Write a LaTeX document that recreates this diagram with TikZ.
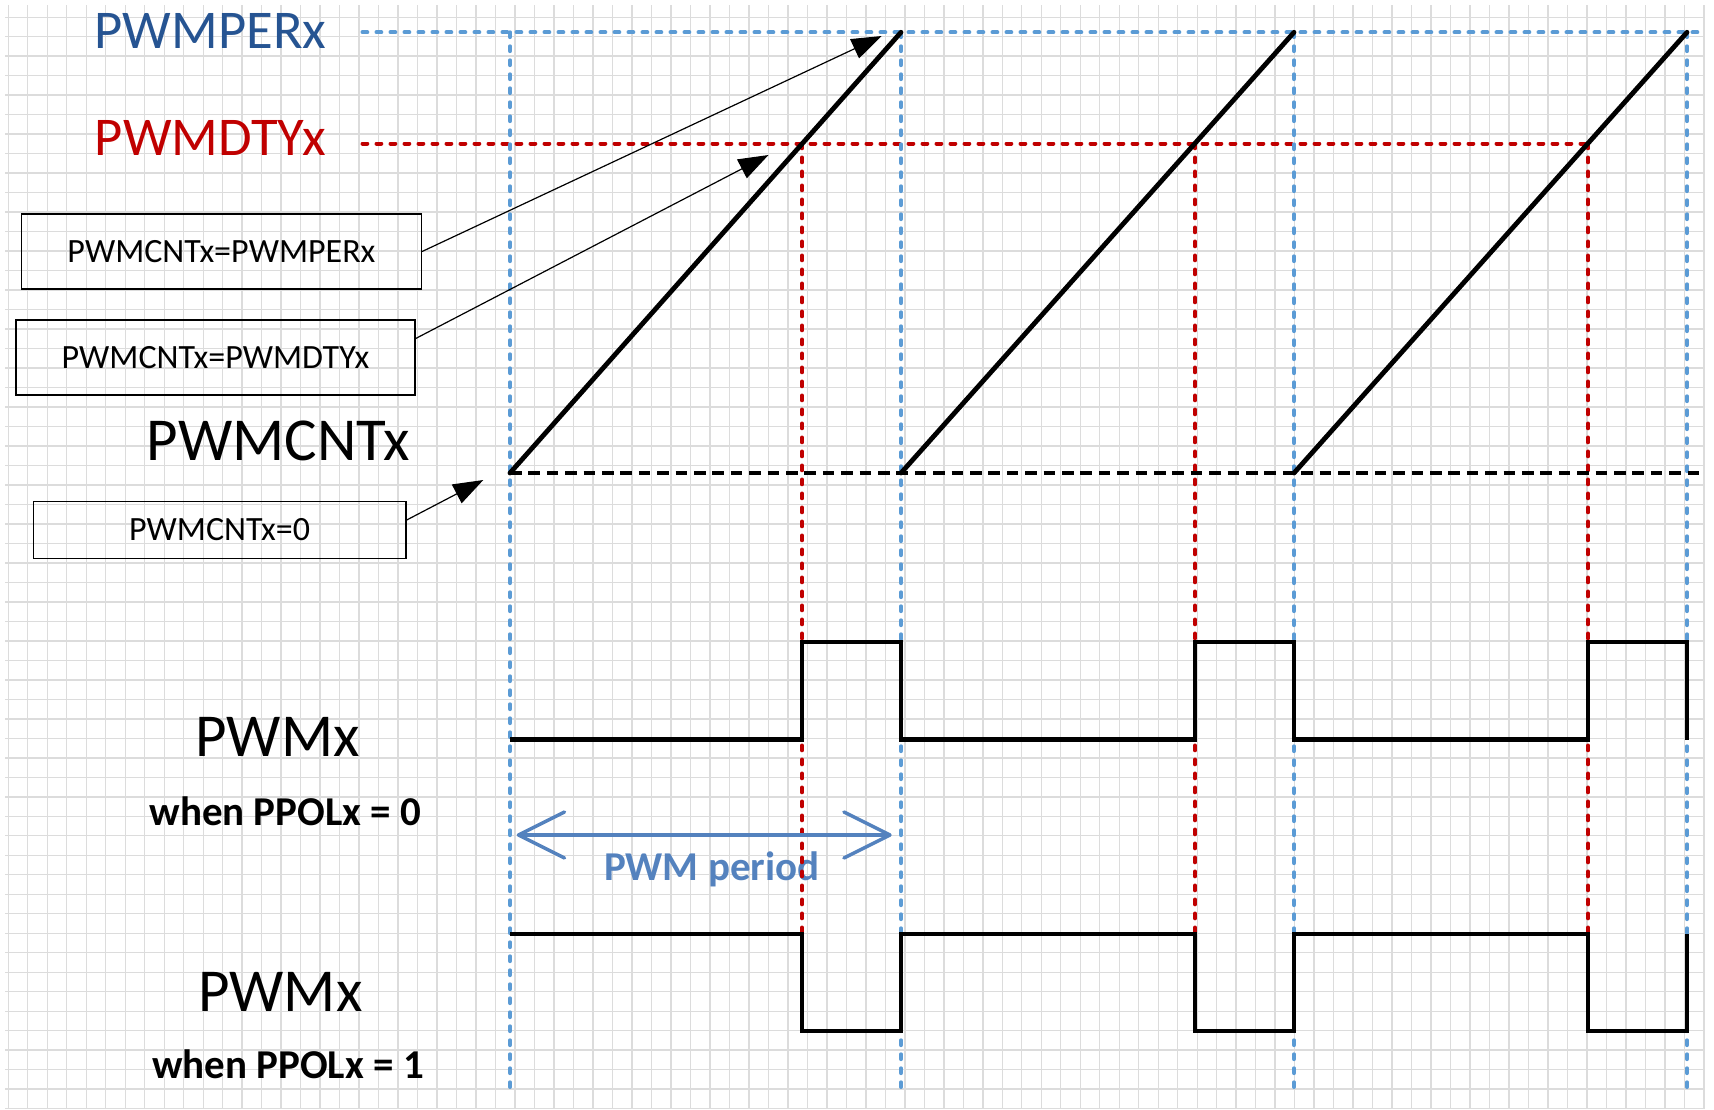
\documentclass[tikz,border=0pt]{standalone}
\usepackage{fontspec}
\setmainfont{Carlito}
\usetikzlibrary{arrows.meta,calc}

\definecolor{perblue}{RGB}{38,84,146}
\definecolor{dtyred}{RGB}{192,0,0}
\definecolor{dotblue}{RGB}{91,155,213}
\definecolor{periodblue}{RGB}{84,130,190}
\definecolor{gridgray}{RGB}{220,220,220}

\tikzset{
gridline/.style={color=gridgray, line width=0.7pt},
bluedots/.style={color=dotblue, line width=2pt, line cap=round, dash pattern=on 2.4pt off 4.6pt},
reddots/.style={color=dtyred, line width=2pt, line cap=round, dash pattern=on 2.4pt off 4.6pt},
zerodash/.style={color=black, line width=1.9pt, dash pattern=on 5.8pt off 3.4pt},
ramp/.style={line width=2.4pt, line cap=round},
wave/.style={line width=2.1pt, line join=miter},
condbox/.style={draw, line width=0.7pt, inner sep=0pt, font=\fontsize{17}{20}\selectfont},
pointer/.style={line width=0.6pt, -{Triangle[length=15pt,width=10.5pt]}}}
\tikzset{every picture/.style={line width=0.75pt}}

\begin{document}
\begin{tikzpicture}[x=0.5pt,y=0.5pt,yscale=-1,xscale=1]
\fill[white] (0,0) rectangle (1714,1109);
\useasboundingbox (0,0) rectangle (1714,1109);

%Grid
\foreach \i in {0,...,87} \draw[gridline] ({8.3+19.49*\i},5) -- ({8.3+19.49*\i},1109);
\foreach \j in {0,...,56} \draw[gridline] (5,{17.2+19.49*\j}) -- (1705,{17.2+19.49*\j});

% Text Node
\node (perlbl) at (327,48.3) [anchor=base east, inner sep=0pt, text=perblue, font=\fontsize{27.3}{32}\selectfont] {PWMPERx};
% Text Node
\node (dtylbl) at (327,155) [anchor=base east, inner sep=0pt, text=dtyred, font=\fontsize{27.3}{32}\selectfont] {PWMDTYx};
% Text Node
\node (cntlbl) at (411,460) [anchor=base east, inner sep=0pt, font=\fontsize{30.5}{36}\selectfont] {PWMCNTx};
% Text Node
\node (pwmlbl) at (277.6,756.5) [anchor=base, inner sep=0pt, font=\fontsize{30.5}{36}\selectfont] {PWMx};
% Text Node
\node (polzero) at (285.4,825) [anchor=base, inner sep=0pt, font=\fontsize{20.5}{24}\selectfont\bfseries] {when PPOLx = 0};
% Text Node
\node (pwminv) at (280.3,1011.7) [anchor=base, inner sep=0pt, font=\fontsize{30.5}{36}\selectfont] {PWMx};
% Text Node
\node (polone) at (288,1078) [anchor=base, inner sep=0pt, font=\fontsize{20.5}{24}\selectfont\bfseries] {when PPOLx = 1};
% Text Node
\node (periodlbl) at (711.7,880) [anchor=base, inner sep=0pt, text=periodblue, font=\fontsize{20.5}{24}\selectfont\bfseries] {PWM period};

%Dotted lines: PWMPERx and PWMDTYx levels
\draw[bluedots] (362.5,32.3) -- (1698,32.3);
\draw[reddots] (362.5,143.5) -- (1587.5,143.5);
%Dotted lines: period borders
\foreach \px in {510,901,1294,1687} \draw[bluedots] (\px,32.3) -- (\px,1087);
%Dotted lines: duty match
\foreach \px in {802,1195,1588} \draw[reddots] (\px,143.5) -- (\px,934);
%Dashed line: counter zero
\draw[zerodash] (510,473) -- (1705,473);

%Counter ramps
\draw[ramp] (510,473) -- (901,32.3);
\draw[ramp] (901,473) -- (1294,32.3);
\draw[ramp] (1294,473) -- (1687,32.3);

%PWMx, PPOLx = 0
\draw[wave] (510,739.5) -- (802,739.5) -- (802,642) -- (901,642) -- (901,739.5)
  -- (1195,739.5) -- (1195,642) -- (1294,642) -- (1294,739.5)
  -- (1588,739.5) -- (1588,642) -- (1687,642) -- (1687,739.5);
%PWMx, PPOLx = 1
\draw[wave] (510,934) -- (802,934) -- (802,1031) -- (901,1031) -- (901,934)
  -- (1195,934) -- (1195,1031) -- (1294,1031) -- (1294,934)
  -- (1588,934) -- (1588,1031) -- (1687,1031) -- (1687,934);

%PWM period arrow
\coordinate (perL) at (516.7,835);
\coordinate (perR) at (891.7,835);
\draw[color=periodblue, line width=1.75pt, {Straight Barb[length=23pt,width=23pt,round]}-{Straight Barb[length=23pt,width=23pt,round]}] (perL) -- (perR);

%Shape: Rectangle
\node (cntper) at (221.4,251.5) [condbox, minimum width=200pt, minimum height=37.5pt] {PWMCNTx=PWMPERx};
%Shape: Rectangle
\node (cntdty) at (215.5,357.5) [condbox, minimum width=199.5pt, minimum height=37.5pt] {PWMCNTx=PWMDTYx};
%Shape: Rectangle
\node (cntzero) at (219.6,530) [condbox, minimum width=186.4pt, minimum height=28.3pt] {PWMCNTx=0};

%Straight Lines
\coordinate (hitper) at (881.7,36);
\coordinate (hitdty) at (768.5,155);
\coordinate (hitzero) at (483.3,480);
\draw[pointer] (cntper.east) -- (hitper);
\draw[pointer] ($(cntdty.east)+(0,-19)$) -- (hitdty);
\draw[pointer] ($(cntzero.east)+(0,-10)$) -- (hitzero);

\end{tikzpicture}
\end{document}
